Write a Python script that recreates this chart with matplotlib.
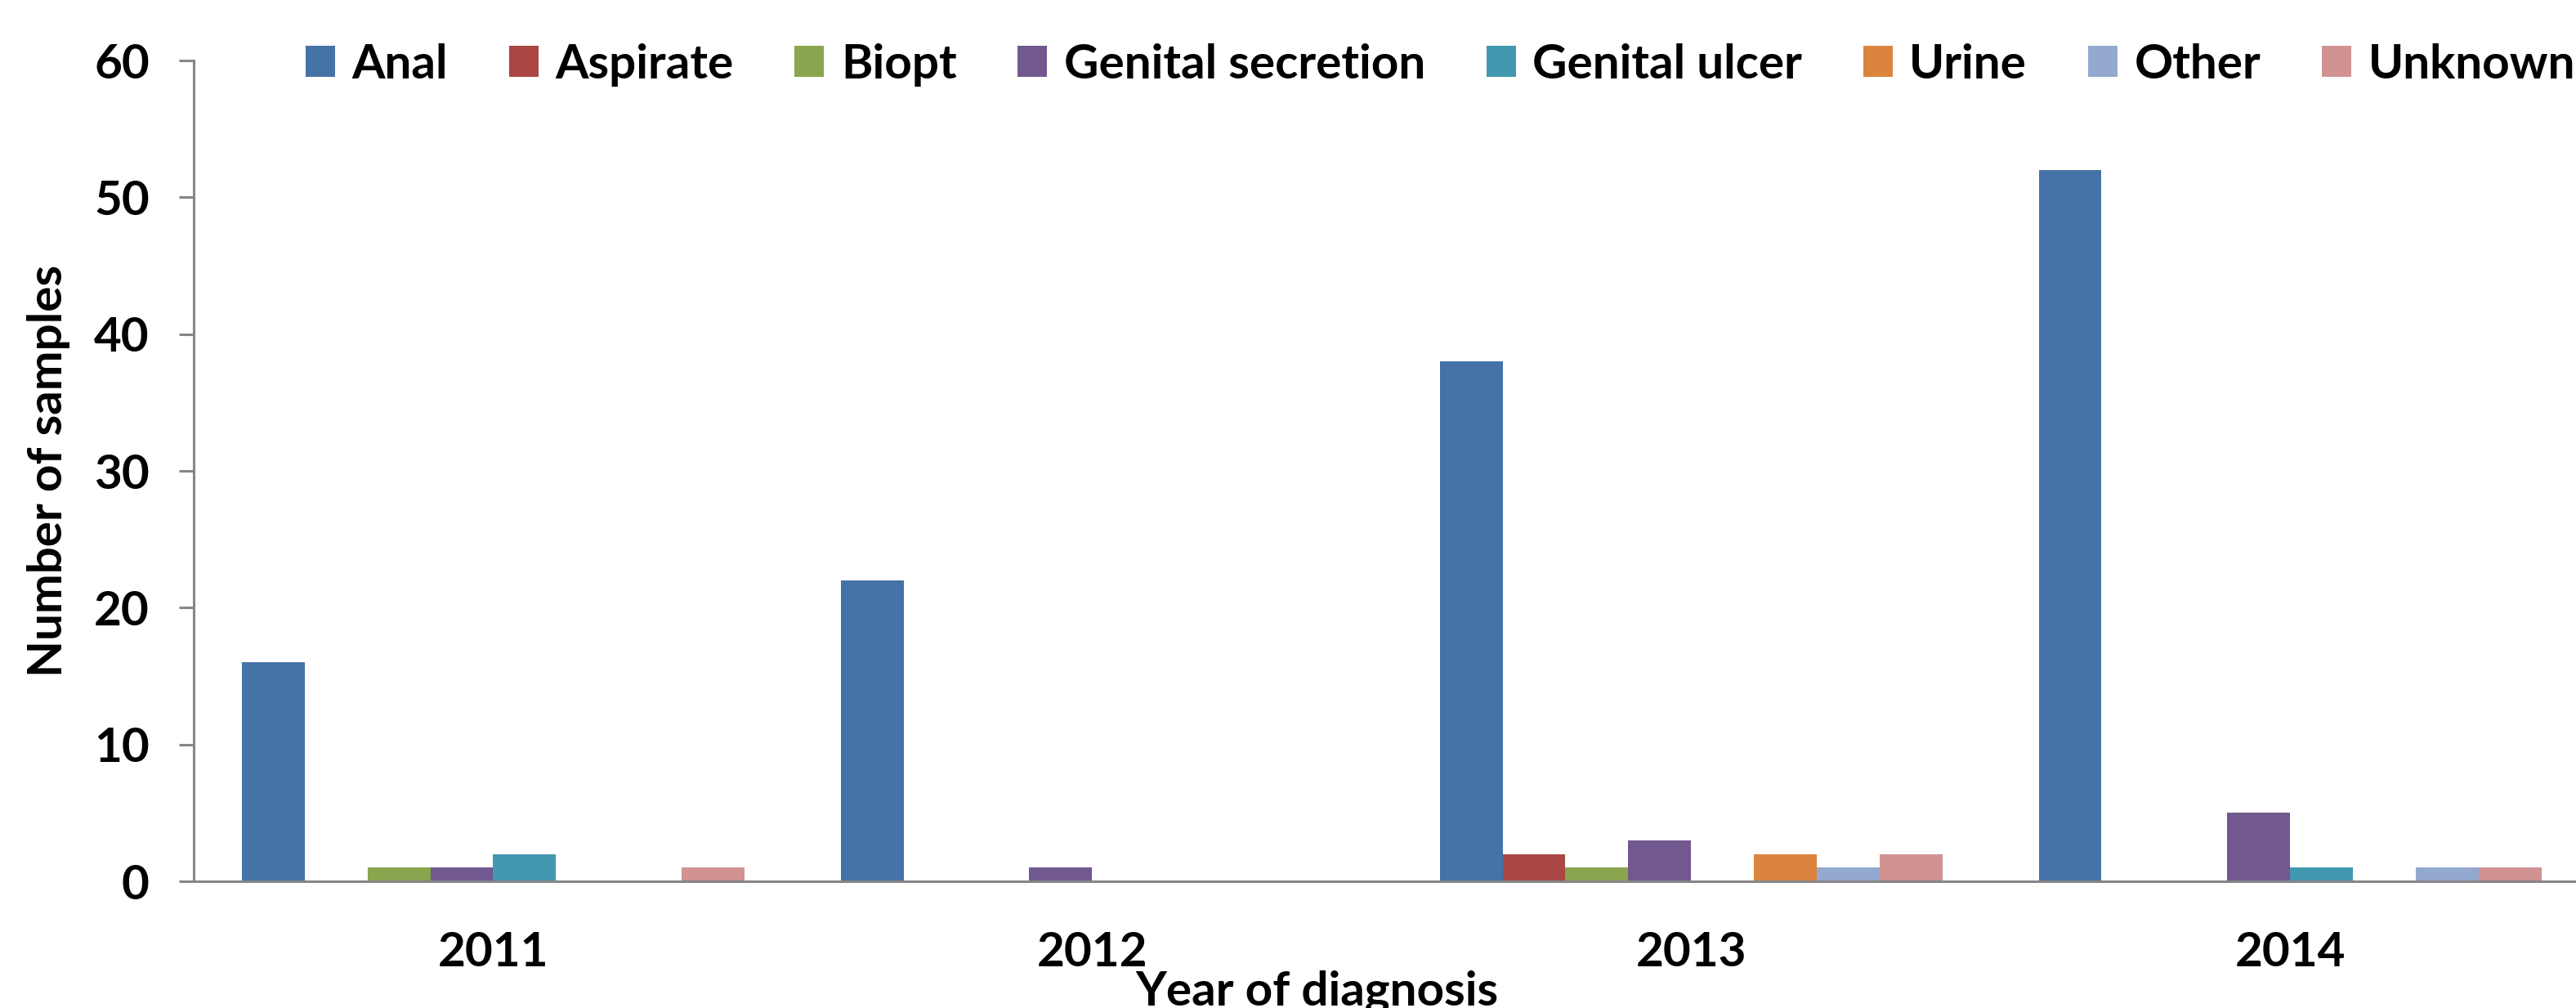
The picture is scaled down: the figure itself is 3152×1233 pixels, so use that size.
import matplotlib
matplotlib.use("Agg")
import matplotlib.pyplot as plt
import numpy as np

years = ["2011", "2012", "2013", "2014"]
series = ["Anal", "Aspirate", "Biopt", "Genital secretion", "Genital ulcer", "Urine", "Other", "Unknown"]
anal = [16, 22, 38, 52]
aspirate = [0, 0, 2, 0]
biopt = [1, 0, 1, 0]
genital_secretion = [1, 1, 3, 5]
genital_ulcer = [2, 0, 0, 1]
urine = [0, 0, 2, 0]
other = [0, 0, 1, 1]
unknown = [1, 0, 2, 1]
values = [anal, aspirate, biopt, genital_secretion, genital_ulcer, urine, other, unknown]
colors = ["#4572A7", "#AA4643", "#89A54E", "#71588F", "#4198AF", "#DB843D", "#93A9CF", "#D19392"]

plt.rcParams['font.family'] = ['Lato', 'DejaVu Sans']
plt.rcParams['font.weight'] = 'bold'
FS = 42

W, H = 3152, 1233
fig = plt.figure(figsize=(W / 100, H / 100), dpi=100)
ax = fig.add_axes([237 / W, (H - 1078) / H, (W - 237) / W, (1078 - 74) / H])

x = np.arange(len(years))
bw = 0.105
for i, (name, vals, c) in enumerate(zip(series, values, colors)):
    ax.bar(x + (i - 3.5) * bw, vals, width=bw, color=c, label=name, edgecolor='none')

ax.set_xlim(-0.5, 3.477)
ax.set_ylim(0, 60)
ax.set_yticks(range(0, 61, 10))
ax.set_xticks(x)
ax.set_xticklabels(years)
for s in ['top', 'right']:
    ax.spines[s].set_visible(False)
for s in ['left', 'bottom']:
    ax.spines[s].set_color('#868686')
    ax.spines[s].set_linewidth(2.2)
ax.tick_params(axis='y', direction='out', length=13, width=2.2, color='#868686',
               labelsize=FS, pad=26)
ax.tick_params(axis='x', length=0, labelsize=FS, pad=44)
for lab in ax.get_xticklabels() + ax.get_yticklabels():
    lab.set_fontweight('bold')

fig.text(60 / W, (H - 576) / H, "Number of samples", rotation=90, ha='center', va='center',
         fontsize=FS, fontweight='bold')
fig.text(1611 / W, 3 / H, "Year of diagnosis", ha='center', va='baseline',
         fontsize=FS, fontweight='bold')

leg = fig.legend(loc='center left', bbox_to_anchor=(374 / W, 1 - 79 / H), ncol=8,
                 frameon=False, fontsize=FS, handlelength=0.62, handleheight=0.62,
                 handletextpad=0.35, columnspacing=1.28, borderaxespad=0, borderpad=0)
for t in leg.get_texts():
    t.set_fontweight('bold')

fig.savefig("out.png", dpi=100)
